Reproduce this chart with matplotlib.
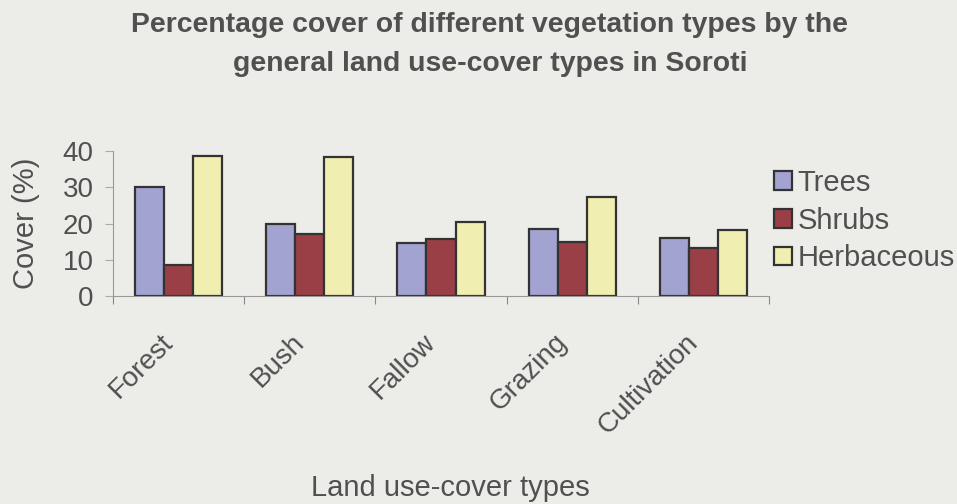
import numpy as np
import matplotlib.pyplot as plt
import matplotlib.transforms as mtransforms

plt.rcParams['font.family'] = ['Liberation Sans', 'DejaVu Sans']

# land use-cover types and % cover of each vegetation type
land_types = ['Forest', 'Bush', 'Fallow', 'Grazing', 'Cultivation']
trees = [30.0, 20.0, 14.5, 18.5, 16.0]
shrubs = [8.5, 17.0, 15.8, 14.9, 13.3]
herbaceous = [38.7, 38.4, 20.5, 27.4, 18.2]
series_names = ['Trees', 'Shrubs', 'Herbaceous']

bg = '#ecede8'
txt = '#505050'
colors = ['#a3a3d2', '#9a3f45', '#f0eeb0']

fig = plt.figure(figsize=(9.57, 5.04), dpi=100, facecolor=bg)
ax = fig.add_axes([113/957, 1-296/504, (769-113)/957, (296-151)/504])
ax.set_facecolor(bg)

x = np.arange(len(land_types))
w = 0.222
for i, (vals, name) in enumerate(zip([trees, shrubs, herbaceous], series_names)):
    ax.bar(x + (i - 1) * w, vals, w, color=colors[i], edgecolor='#333333',
           linewidth=1.6, label=name)

ax.set_xlim(-0.5, len(land_types) - 0.5)
ax.set_ylim(0, 40)
ax.set_yticks([0, 10, 20, 30, 40])
# category dividers as major ticks, names on minor ticks
ax.set_xticks(np.arange(-0.5, len(land_types), 1.0), minor=False)
ax.set_xticklabels([])
ax.set_xticks(x, minor=True)
labels = ax.set_xticklabels(land_types, minor=True, rotation=45, ha='right',
                            va='top', fontsize=20, color=txt)
shift = mtransforms.ScaledTranslation(-7/100, 0, fig.dpi_scale_trans)
for lb in labels:
    lb.set_transform(lb.get_transform() + shift)
ax.tick_params(axis='x', which='minor', length=0, pad=24)
ax.tick_params(axis='x', which='major', length=6, direction='out', color='#888888')
ax.tick_params(axis='y', length=6, direction='out', color='#aaaaaa',
               labelsize=20, labelcolor=txt, pad=8)

for s in ['top', 'right']:
    ax.spines[s].set_visible(False)
ax.spines['left'].set_color('#999999')
ax.spines['bottom'].set_color('#999999')

ax.set_ylabel('Cover (%)', fontsize=21, color=txt, labelpad=16)
fig.text(450/957, 1-496/504, 'Land use-cover types', fontsize=21, color=txt,
         ha='center', va='baseline')

fig.text(490/957, 1-32/504, 'Percentage cover of different vegetation types by the',
         fontsize=20.4, fontweight='bold', color=txt, ha='center', va='baseline')
fig.text(490/957, 1-71/504, 'general land use-cover types in Soroti',
         fontsize=20.4, fontweight='bold', color=txt, ha='center', va='baseline')

ax.legend(loc='upper left', bbox_to_anchor=(774/957, 1-169/504),
          bbox_transform=fig.transFigure, frameon=False, fontsize=21,
          labelcolor=txt, handlelength=0.6, handleheight=0.6,
          handletextpad=0.2, labelspacing=0.33, borderaxespad=0,
          borderpad=0)

fig.savefig('out.png', dpi=100, facecolor=bg)
